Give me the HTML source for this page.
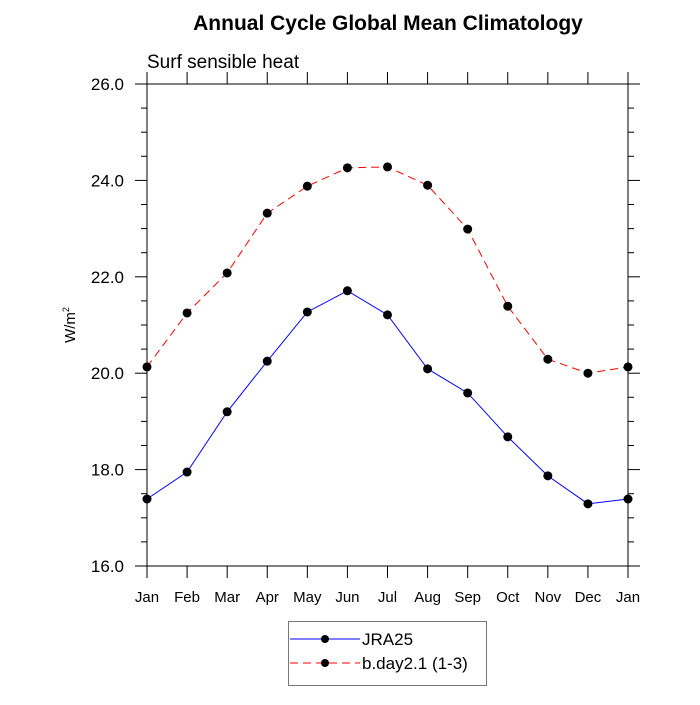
<!DOCTYPE html>
<html><head><meta charset="utf-8"><style>
body{margin:0;background:#fff}
text{font-family:"Liberation Sans",sans-serif}
</style></head><body>
<svg id="c" width="700" height="700" xmlns="http://www.w3.org/2000/svg">
<text x="388" y="30" text-anchor="middle" font-size="21" font-weight="bold">Annual Cycle Global Mean Climatology</text>
<text x="147" y="68" font-size="19">Surf sensible heat</text>
<text x="0" y="0" font-size="15" transform="translate(75,325) rotate(-90)" text-anchor="middle">W/m<tspan font-size="9" dy="-6">2</tspan></text>
<g id="ax"></g>
<g id="series"></g>
<g>
<rect x="288.5" y="621.5" width="198" height="64" fill="#fff" stroke="#777"/>
<g>
<line x1="290" y1="639" x2="360" y2="639" stroke="#0000ff"/>
<circle cx="325" cy="639" r="4" fill="#000"/>
<text x="362" y="645" font-size="17">JRA25</text></g>
<g>
<line x1="290" y1="663" x2="360" y2="663" stroke="#ff0000" stroke-dasharray="8,5"/>
<circle cx="325" cy="663" r="4" fill="#000"/>
<text x="362" y="669" font-size="17">b.day2.1 (1-3)</text></g>
</g>
</svg>
<script>
const months=["Jan","Feb","Mar","Apr","May","Jun","Jul","Aug","Sep","Oct","Nov","Dec","Jan"];
const jra25=[17.39,17.95,19.20,20.25,21.27,21.71,21.21,20.09,19.59,18.68,17.87,17.29,17.39];
const bday=[20.13,21.25,22.08,23.32,23.88,24.26,24.28,23.90,22.99,21.39,20.29,20.00,20.13];
const yTicks=[16,18,20,22,24,26];
const X0=147,X1=628,Y0=566,Y1=84,ymin=16,ymax=26;
const xs=i=>X0+(X1-X0)*i/(months.length-1);
const ys=v=>Y0-(v-ymin)/(ymax-ymin)*(Y0-Y1);
const NS="http://www.w3.org/2000/svg";
function mk(t,a,p){const e=document.createElementNS(NS,t);for(const k in a)e.setAttribute(k,a[k]);p.appendChild(e);return e;}
const ax=document.getElementById('ax');
const fr=mk('rect',{x:X0,y:Y1,width:X1-X0,height:Y0-Y1,fill:'none',stroke:'#000','stroke-width':1},ax);


for(let v=ymin;v<=ymax+1e-9;v+=0.5){
 const y=ys(v),major=Math.abs(v/2-Math.round(v/2))<1e-9,L=major?12:6;
 mk('line',{x1:X0-L,y1:y,x2:X0,y2:y,stroke:'#000'},ax);
 mk('line',{x1:X1,y1:y,x2:X1+L,y2:y,stroke:'#000'},ax);
}
yTicks.forEach(v=>{const t=mk('text',{x:X0-23,y:ys(v)+6,'text-anchor':'end','font-size':17},ax);t.textContent=v.toFixed(1);

});
months.forEach((m,i)=>{const x=xs(i);
 mk('line',{x1:x,y1:Y0,x2:x,y2:Y0+12,stroke:'#000'},ax);
 mk('line',{x1:x,y1:Y1,x2:x,y2:Y1-12,stroke:'#000'},ax);
 const t=mk('text',{x:x,y:Y0+36,'text-anchor':'middle','font-size':15},ax);t.textContent=m;
 
 });
const sg=document.getElementById('series');
function series(d,col,dash,name){
 const g=mk('g',{},sg);
 
 
 mk('polyline',{points:d.map((v,i)=>xs(i)+','+ys(v)).join(' '),fill:'none',stroke:col,'stroke-width':1,'stroke-dasharray':dash},g);
 d.forEach((v,i)=>{const c=mk('circle',{cx:xs(i),cy:ys(v),r:4.5,fill:'#000'},g);
 
 });
}
series(jra25,'#0000ff','none','series-jra25');
series(bday,'#ff0000','8,5','series-bday21');
</script>
</body></html>
